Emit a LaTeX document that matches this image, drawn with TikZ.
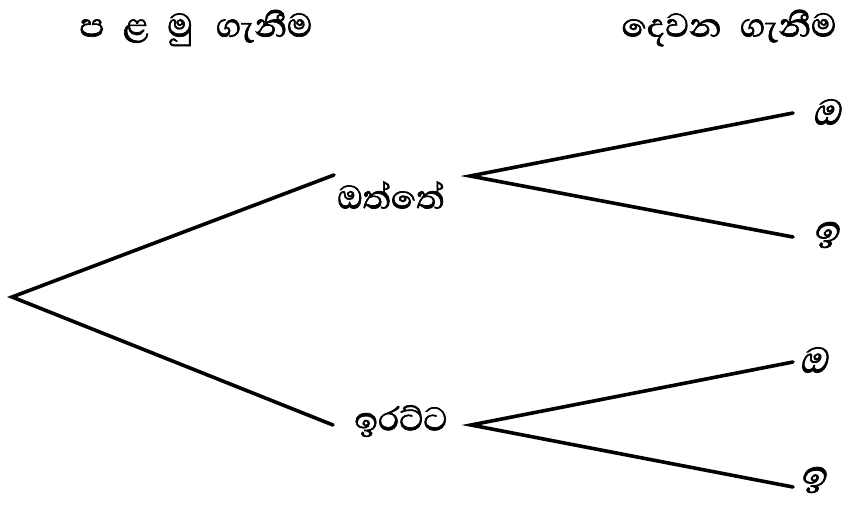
\documentclass[tikz,border=0pt]{standalone}
\usepackage{fontspec}
\newfontfamily\sinhalafont[Script=Sinhala,FakeBold=1.6]{Abhaya Libre}
\newfontfamily\sinhalaslanted[Script=Sinhala,FakeSlant=0.25,FakeBold=1.6]{Abhaya Libre}
\begin{document}
\begin{tikzpicture}[x=1pt,y=-1pt,
  branch/.style={line width=3.6pt,line cap=round},
  outcome/.style={inner sep=0pt,font=\sinhalafont\fontsize{42}{46}\selectfont},
  leaf/.style={inner sep=0pt,font=\sinhalaslanted\fontsize{46}{50}\selectfont},
  heading/.style={inner sep=0pt,font=\sinhalafont\fontsize{42}{46}\selectfont}]
\useasboundingbox (0,0) rectangle (849,504);
% column headings
\node[heading] (h1) at (196,28) {ප\hspace{0.45em}ළ\hspace{0.45em}මු\hspace{0.55em}ගැනීම};
\node[heading] (h2) at (729,28) {දෙවන\hspace{0.25em} ගැනීම};
% first draw
\coordinate (root) at (12,297);
\node[outcome] (odd) at (391,195) {ඔත්තේ};
\node[outcome] (even) at (401,421) {ඉරට්ට};
\coordinate (oddin) at (334,175);
\coordinate (oddout) at (470,176);
\coordinate (evenin) at (333,425);
\coordinate (evenout) at (471,425);
% second draw
\node[leaf] (o1) at (826,112) {ඔ};
\node[leaf] (e1) at (826,235) {ඉ};
\node[leaf] (o2) at (813,360) {ඔ};
\node[leaf] (e2) at (813,480) {ඉ};
\coordinate (o1in) at (793,113);
\coordinate (e1in) at (793,237);
\coordinate (o2in) at (793,362);
\coordinate (e2in) at (793,487);
% branches
\draw[branch] (oddin) -- (root) -- (evenin);
\draw[branch] (o1in) -- (oddout) -- (e1in);
\draw[branch] (o2in) -- (evenout) -- (e2in);
\end{tikzpicture}
\end{document}
